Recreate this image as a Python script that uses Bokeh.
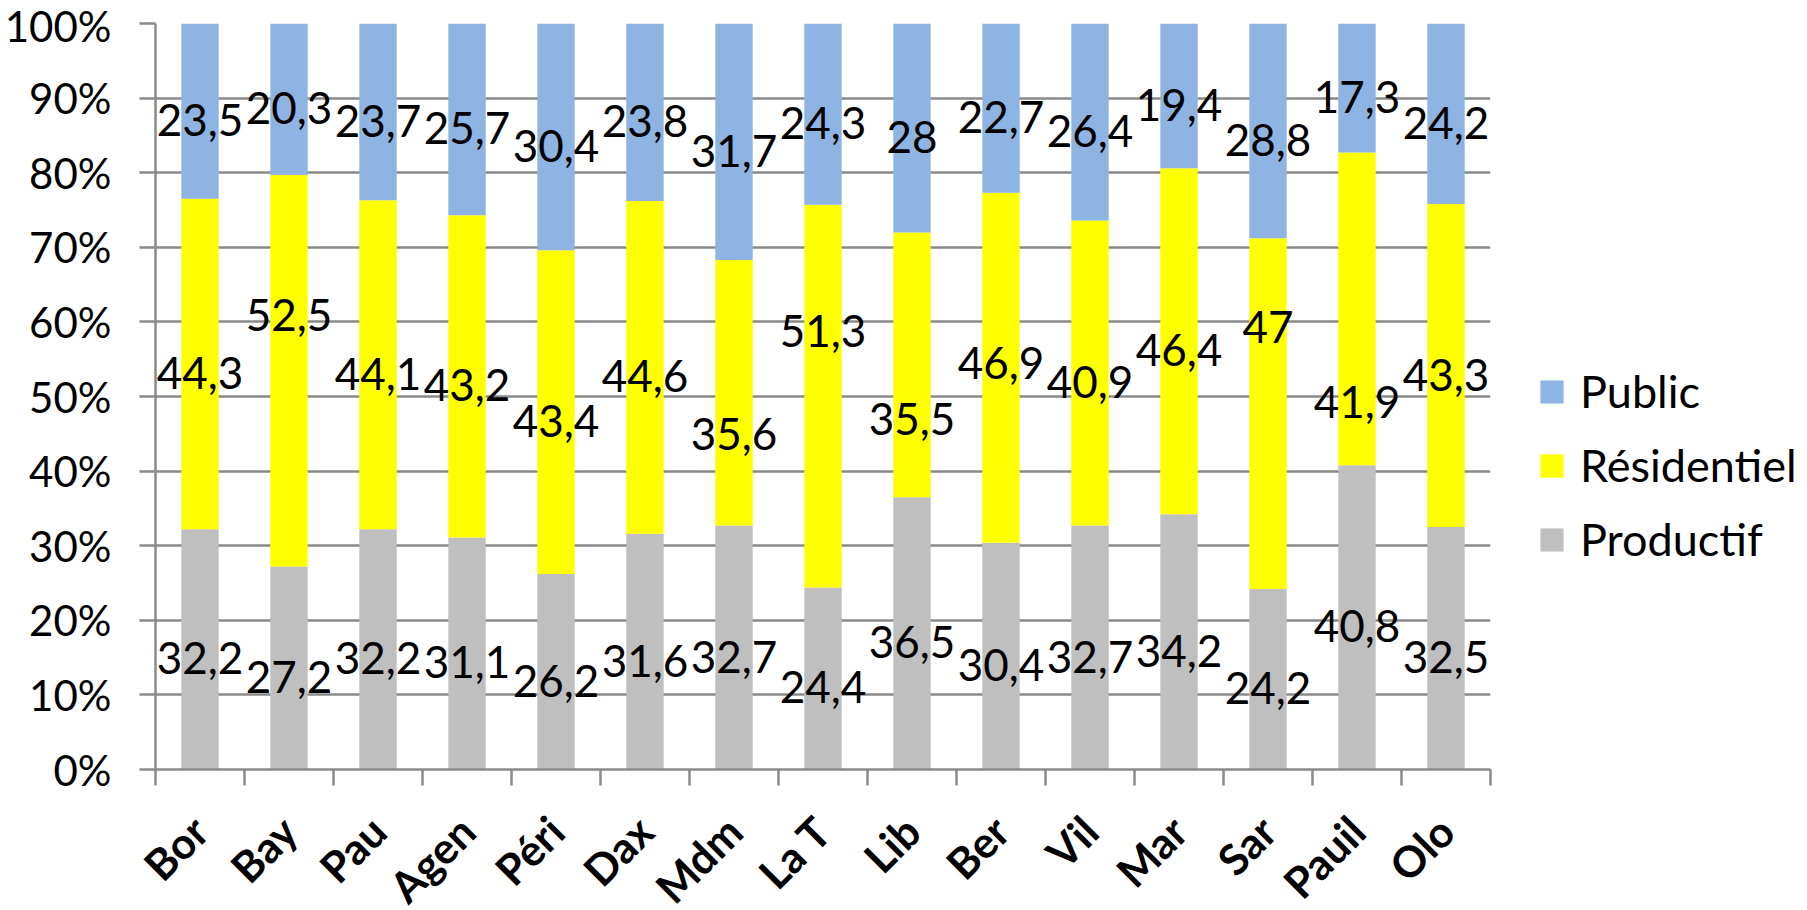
import math
from bokeh.plotting import figure
from bokeh.models import (ColumnDataSource, Range1d, FixedTicker, Legend, LegendItem,
                          PrintfTickFormatter)
from bokeh.core.properties import value
from bokeh.embed import file_html
from bokeh.resources import INLINE

# ---------------- data ----------------
categories = ["Bor", "Bay", "Pau", "Agen", "Péri", "Dax", "Mdm", "La T", "Lib",
              "Ber", "Vil", "Mar", "Sar", "Pauil", "Olo"]
productif = [32.2, 27.2, 32.2, 31.1, 26.2, 31.6, 32.7, 24.4, 36.5, 30.4, 32.7, 34.2, 24.2, 40.8, 32.5]
residentiel = [44.3, 52.5, 44.1, 43.2, 43.4, 44.6, 35.6, 51.3, 35.5, 46.9, 40.9, 46.4, 47.0, 41.9, 43.3]
public = [23.5, 20.3, 23.7, 25.7, 30.4, 23.8, 31.7, 24.3, 28.0, 22.7, 26.4, 19.4, 28.8, 17.3, 24.2]
series_names = ["Productif", "Résidentiel", "Public"]
y_ticks = [0, 10, 20, 30, 40, 50, 60, 70, 80, 90, 100]

# label placement tweaks (percentage points) for hand-moved labels in the original
res_label_shift = [0, 8.7, 0, 0, 0, 0, -4.3, 10.0, -6.0, 1.8, 0, 0, 12.8, -11.3, 0]

# ---------------- style ----------------
colors = ["#BFBFBF", "#FFFF00", "#8EB4E3"]
grid_color = "#8A8A8A"
FONT = "Lato"

n = len(categories)
xs = [i + 0.5 for i in range(n)]

src = ColumnDataSource(dict(x=xs, Productif=productif, Résidentiel=residentiel, Public=public))

p = figure(frame_width=1335, frame_height=746,
           x_range=Range1d(0, n), y_range=Range1d(0, 100),
           output_backend="svg", toolbar_location=None,
           min_border_left=155, min_border_top=23, min_border_bottom=125, min_border_right=301)
p.outline_line_color = None
p.background_fill_color = "white"
p.border_fill_color = "white"

renderers = p.vbar_stack(series_names, x="x", width=0.42, color=colors, line_color=None, source=src)


def fmt(v):
    return str(int(v)) if float(v).is_integer() else f"{v:.1f}".replace(".", ",")


lx, ly, lt = [], [], []
for i in range(n):
    b0 = 0.0
    vals = [productif[i], residentiel[i], public[i]]
    shifts = [0.0, res_label_shift[i], 0.0]
    for v, s in zip(vals, shifts):
        lx.append(xs[i])
        ly.append(b0 + v / 2 + s)
        lt.append(fmt(v))
        b0 += v

lsrc = ColumnDataSource(dict(x=lx, y=ly, t=lt))
p.text(x="x", y="y", text="t", source=lsrc, text_font=value(FONT), text_font_size="44px",
       text_align="center", text_baseline="middle", text_color="black", y_offset=9)

# x axis
xa = p.xaxis[0]
xa.ticker = FixedTicker(ticks=xs, minor_ticks=list(range(n + 1)))
xa.major_label_overrides = {x: c for x, c in zip(xs, categories)}
xa.major_tick_out = 0
xa.major_tick_in = 0
xa.minor_tick_out = 16
xa.minor_tick_in = 0
xa.minor_tick_line_color = grid_color
xa.minor_tick_line_width = 2.5
xa.axis_line_color = grid_color
xa.axis_line_width = 2.5
xa.major_label_orientation = math.pi / 4
xa.major_label_text_font = FONT
xa.major_label_text_font_size = "43px"
xa.major_label_text_font_style = "bold"
xa.major_label_text_color = "black"
xa.major_label_standoff = 38

# y axis
ya = p.yaxis[0]
ya.ticker = FixedTicker(ticks=y_ticks)
ya.formatter = PrintfTickFormatter(format="%d%%")
ya.major_tick_out = 16
ya.major_tick_in = 0
ya.minor_tick_out = 0
ya.minor_tick_in = 0
ya.major_tick_line_color = grid_color
ya.major_tick_line_width = 2.5
ya.axis_line_color = grid_color
ya.axis_line_width = 2.5
ya.major_label_text_font = FONT
ya.major_label_text_font_size = "42px"
ya.major_label_text_color = "black"
ya.major_label_standoff = 28

p.xgrid.visible = False
p.ygrid.ticker = FixedTicker(ticks=y_ticks)
p.ygrid.grid_line_color = grid_color
p.ygrid.grid_line_width = 2.5

legend = Legend(items=[LegendItem(label=series_names[2], renderers=[renderers[2]]),
                       LegendItem(label=series_names[1], renderers=[renderers[1]]),
                       LegendItem(label=series_names[0], renderers=[renderers[0]])],
                location=(47, 203), orientation="vertical",
                glyph_width=29, glyph_height=29, label_standoff=14, spacing=20,
                label_text_font=FONT, label_text_font_size="45px", label_text_color="black",
                border_line_color=None, background_fill_alpha=0, padding=0, margin=0)
p.add_layout(legend, "right")

open("out.html", "w").write(file_html(p, INLINE))
